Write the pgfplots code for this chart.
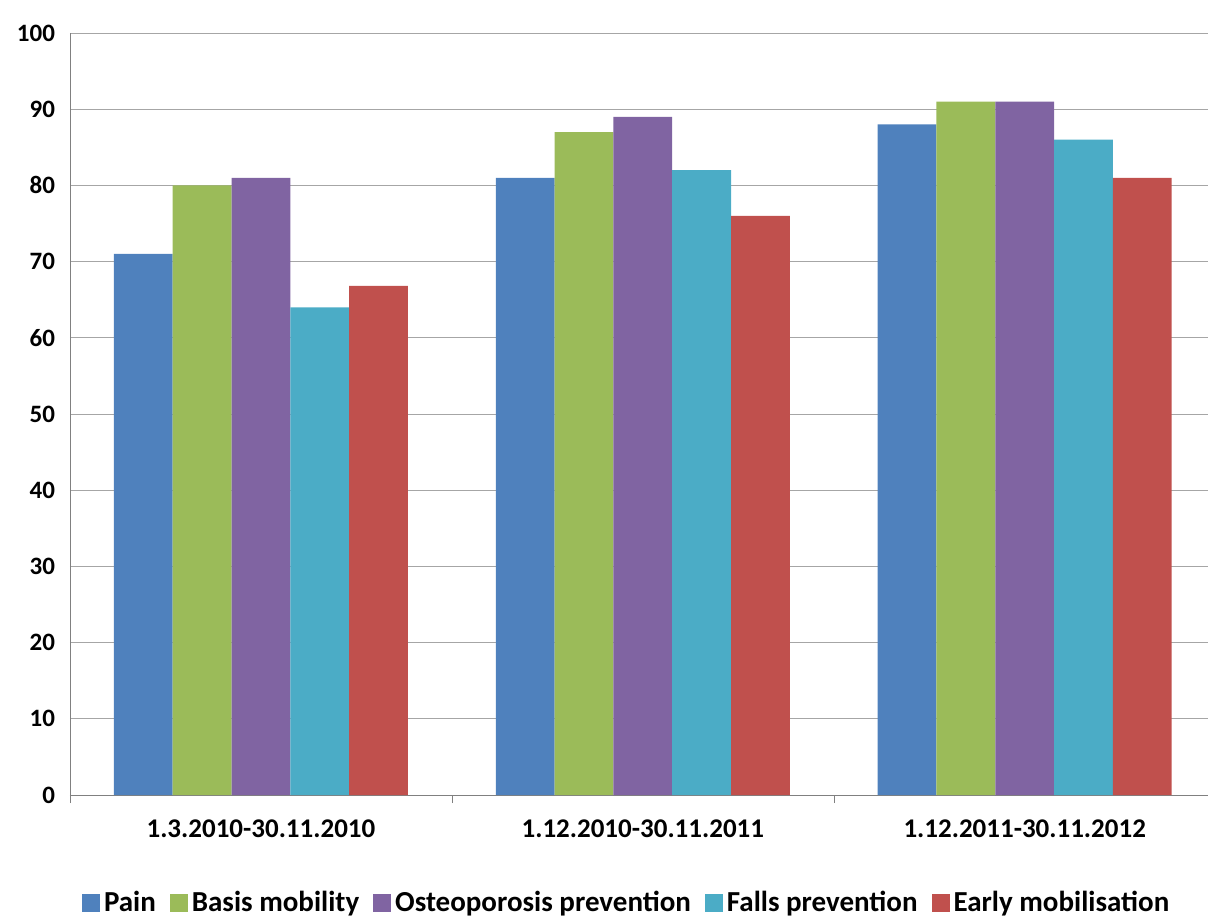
\documentclass[border=0pt]{standalone}
\usepackage{pgfplots}
\pgfplotsset{compat=1.18}
\usepackage{fontspec}
\setmainfont{Carlito}
\setsansfont{Carlito}
\usetikzlibrary{calc}
\definecolor{cA}{HTML}{4F81BD}
\definecolor{cB}{HTML}{9BBB59}
\definecolor{cC}{HTML}{8064A2}
\definecolor{cD}{HTML}{4BACC6}
\definecolor{cE}{HTML}{C0504D}
\begin{document}
\begin{tikzpicture}
\begin{axis}[name=ax,
  scale only axis, width=569pt, height=381pt,
  ybar=0pt, bar width=0.154,
  xmin=-0.5, xmax=2.48, ymin=0, ymax=100,
  ytick={0,10,...,100},
  xtick={-0.5,0.5,1.5}, xticklabels={},
  major tick length=4pt,
  extra x ticks={0,1,2}, extra x tick labels={1.3.2010-30.11.2010,1.12.2010-30.11.2011,1.12.2011-30.11.2012},
  extra x tick style={major tick length=0pt, grid=none, tick label style={font=\fontsize{13.5}{14}\selectfont\bfseries}},
  tick align=outside, ytick style={draw=none}, xtick style={draw=gray},
  axis x line*=bottom, axis y line*=left,
  axis line style={gray},
  ymajorgrids, grid style={gray!70},
  font=\fontsize{12.5}{14}\selectfont\bfseries,
  ticklabel style={font=\fontsize{12.5}{14}\selectfont\bfseries},
  /pgf/number format/assume math mode=true,
  xticklabel style={yshift=-9pt},
  legend style={at={(0.49,-0.115)}, anchor=north, draw=none, legend columns=-1, fill=none,
    font=\fontsize{14.5}{15}\selectfont\bfseries, /tikz/every even column/.append style={column sep=5pt}},
  legend image code/.code={\fill[#1] (0pt,-4.5pt) rectangle (9pt,4.5pt);},
]
\addplot[fill=cA, draw=none] coordinates {(0,71) (1,81) (2,88)};
\addplot[fill=cB, draw=none] coordinates {(0,80) (1,87) (2,91)};
\addplot[fill=cC, draw=none] coordinates {(0,81) (1,89) (2,91)};
\addplot[fill=cD, draw=none] coordinates {(0,64) (1,82) (2,86)};
\addplot[fill=cE, draw=none] coordinates {(0,66.8) (1,76) (2,81)};
\legend{Pain,Basis mobility,Osteoporosis prevention,Falls prevention,Early mobilisation}
\end{axis}
\pgfresetboundingbox
\path ($(ax.south west)+(-35pt,-63.5pt)$) rectangle ($(ax.north east)+(0,16.5pt)$);
\end{tikzpicture}
\end{document}
